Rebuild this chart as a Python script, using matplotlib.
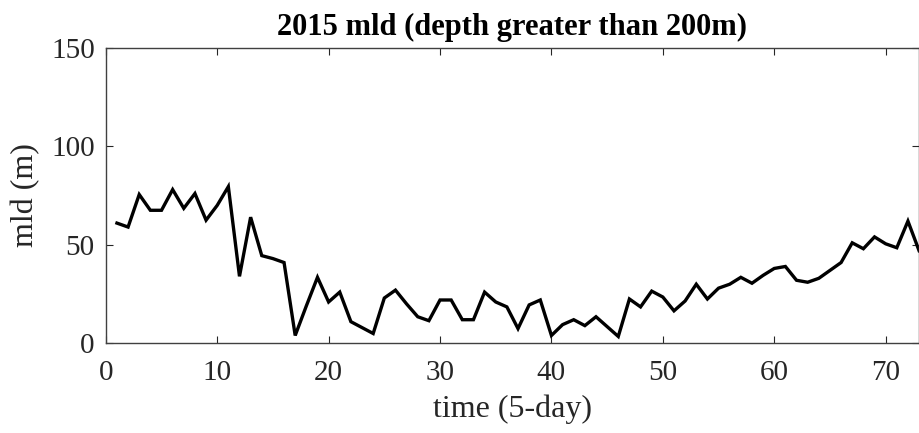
import numpy as np
import matplotlib
matplotlib.use('Agg')
import matplotlib.pyplot as plt

# mixed layer depth, 5-day steps through 2015
time_step = np.arange(1, 74)
mld = [61, 59, 75.5, 67.5, 67.5, 78, 68.5, 76, 62.5, 70,
       79.5, 34, 64, 44.5, 43, 41, 4, 19, 33.5, 21,
       26, 11, 8, 5, 23, 27, 20, 13.5, 11.5, 22,
       22, 12, 12, 26, 21, 18.5, 7.5, 19.5, 22, 4,
       9.5, 12, 9, 13.5, 8.5, 3.5, 22.5, 18.5, 26.5, 23.5,
       16.5, 21.5, 30, 22.5, 28, 30, 33.5, 30.5, 34.5, 38,
       39, 32, 31, 33, 37, 41, 51, 48, 54, 50.5,
       48.5, 62, 47]

x_ticks = [0, 10, 20, 30, 40, 50, 60, 70]
y_ticks = [0, 50, 100, 150]

plt.rcParams['font.family'] = ['Liberation Serif', 'DejaVu Serif']

fig = plt.figure(figsize=(9.2, 4.33), dpi=100)
ax = fig.add_axes([0.115, 0.207, 0.884, 0.683])

ax.plot(time_step, mld, color='black', linewidth=2.4, solid_joinstyle='miter')

ax.set_xlim(0, 73)
ax.set_ylim(0, 150)
ax.set_xticks(x_ticks)
ax.set_yticks(y_ticks)
ax.tick_params(direction='in', length=5, width=0.8, colors='#262626',
               labelsize=21, top=True, right=True)
ax.tick_params(axis='x', pad=12)
ax.tick_params(axis='y', pad=8)
for sp in ax.spines.values():
    sp.set_color('#404040')
    sp.set_linewidth(1.0)

ax.set_xlabel('time (5-day)', fontsize=23, color='#262626', labelpad=6)
ax.set_ylabel('mld (m)', fontsize=23, color='#262626', labelpad=8)
ax.set_title('2015 mld (depth greater than 200m)', fontsize=22,
             fontweight='bold', pad=9)

fig.savefig('out.png', dpi=100)
